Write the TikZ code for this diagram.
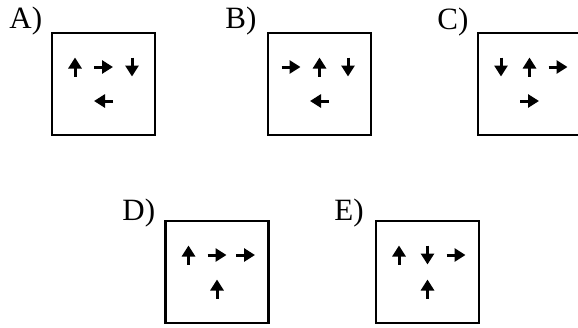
\documentclass[tikz,border=0pt]{standalone}
\usepackage{fontspec}
\setmainfont{Liberation Serif}
\usepackage{tikz}
\usetikzlibrary{arrows.meta, calc}

\tikzset{
  panel/.style={draw, line width=1.4pt, fill=white, minimum width=51.5pt, minimum height=51pt, inner sep=0pt},
  choice/.style={font=\fontsize{15.5}{18}\selectfont, anchor=base west, inner sep=0pt},
  dirline/.style={line width=1.5pt, -{Triangle[length=5.5pt, width=6.5pt]}},
  dirarrow/.pic={\draw[dirline] (-9.5,0) -- (9.5,0);}
}

\begin{document}
\begin{tikzpicture}[x=0.5pt, y=-0.5pt]
		\useasboundingbox (0,0) rectangle (578,327);
		% Answer boxes
		\node[panel] (A) at (103.5,84) {};
		\node[panel] (B) at (319.5,84) {};
		\node[panel] (C) at (529.5,84) {};
		\node[panel] (D) at (217,272) {};
		\node[panel] (E) at (427.5,272) {};
		% Option letters
		\node[choice] (labA) at (9,28) {A)};
		\node[choice] (labB) at (225,28) {B)};
		\node[choice] (labC) at (437,29) {C)};
		\node[choice] (labD) at (122,220) {D)};
		\node[choice] (labE) at (334,220) {E)};
		% Arrows: three on top, one in the middle below (angle 90 = up)
		\foreach \p/\r/\s/\t/\u in {A/90/0/-90/180, B/0/90/-90/180, C/-90/90/0/0, D/90/0/0/90, E/90/-90/0/90} {
			\pic[rotate=\r] at ($(\p)+(-28.5,-17)$) {dirarrow};
			\pic[rotate=\s] at ($(\p)+(0,-17)$) {dirarrow};
			\pic[rotate=\t] at ($(\p)+(28.5,-17)$) {dirarrow};
			\pic[rotate=\u] at ($(\p)+(0,17)$) {dirarrow};
		}
	\end{tikzpicture}
\end{document}
